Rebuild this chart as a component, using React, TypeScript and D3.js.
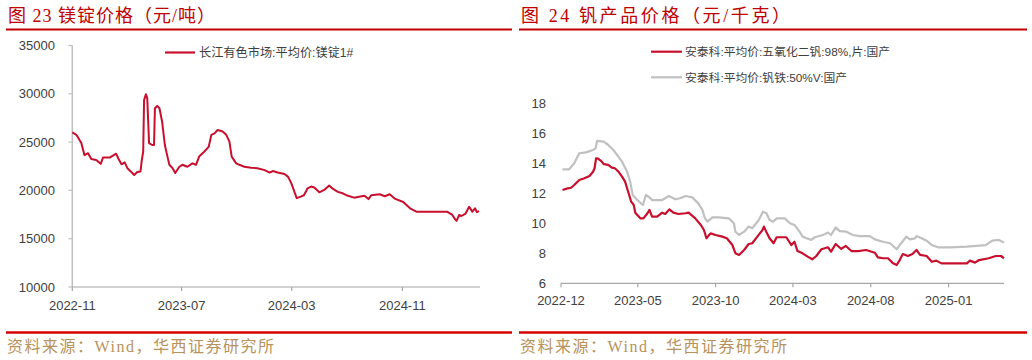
import React from 'react';
import * as d3 from 'd3';

// 镁锭价格 (元/吨)
const mgDates = [
  '2022-11-01', '2022-11-10', '2022-11-21', '2022-11-28', '2022-12-06', '2022-12-13', '2022-12-24',
  '2023-01-03', '2023-01-08', '2023-01-23', '2023-02-06', '2023-02-11', '2023-02-18', '2023-02-25',
  '2023-03-03', '2023-03-14', '2023-03-18', '2023-03-25', '2023-04-01', '2023-04-04', '2023-04-07',
  '2023-04-09', '2023-04-13', '2023-04-16', '2023-04-20', '2023-04-27', '2023-05-01', '2023-05-03',
  '2023-05-08', '2023-05-13', '2023-05-19', '2023-05-25', '2023-05-30', '2023-06-04', '2023-06-11',
  '2023-06-17', '2023-06-26', '2023-07-03', '2023-07-14', '2023-07-25', '2023-08-02', '2023-08-09',
  '2023-08-20', '2023-08-30', '2023-09-05', '2023-09-12', '2023-09-19', '2023-09-30', '2023-10-08',
  '2023-10-15', '2023-10-20', '2023-10-30', '2023-11-06', '2023-11-17', '2023-12-02', '2023-12-16',
  '2024-01-01', '2024-01-12', '2024-01-19', '2024-01-30', '2024-02-14', '2024-02-22', '2024-02-29',
  '2024-03-07', '2024-03-12', '2024-03-21', '2024-03-28', '2024-04-05', '2024-04-13', '2024-04-20',
  '2024-05-01', '2024-05-12', '2024-05-23', '2024-05-30', '2024-06-11', '2024-06-22', '2024-06-30',
  '2024-07-17', '2024-08-09', '2024-08-18', '2024-08-24', '2024-09-12', '2024-09-23', '2024-10-04',
  '2024-10-15', '2024-11-03', '2024-11-18', '2024-12-02', '2025-02-08', '2025-02-19', '2025-02-26',
  '2025-03-01', '2025-03-07', '2025-03-12', '2025-03-21', '2025-03-29', '2025-04-05', '2025-04-11',
  '2025-04-15', '2025-04-20',
];
const mgPrice = [
  26000, 25750, 24900, 23650, 23850, 23250, 23150,
  22750, 23400, 23400, 23800, 23300, 22700, 22900,
  22300, 21800, 21600, 21900, 21950, 23150, 24000,
  29350, 29950, 29550, 24900, 24700, 24700, 28500,
  28750, 28500, 27100, 24700, 23650, 22650, 22300,
  21800, 22450, 22650, 22450, 22800, 22650, 23500,
  24000, 24500, 25750, 25900, 26250, 26100, 25750,
  25050, 23500, 22800, 22650, 22450, 22350, 22300,
  22100, 21850, 22000, 21850, 21700, 21400, 20750,
  19850, 19200, 19350, 19500, 20200, 20400, 20300,
  19800, 20050, 20500, 20200, 19850, 19700, 19500,
  19250, 19450, 19100, 19500, 19600, 19400, 19600,
  19150, 18800, 18150, 17800, 17800, 17500, 17000,
  16850, 17450, 17350, 17600, 18300, 17800, 18150,
  17750, 17850,
];
const mgTicksY = [10000, 15000, 20000, 25000, 30000, 35000];
const mgTicksX = ['2022-11-01', '2023-07-01', '2024-03-01', '2024-11-01'];

// 钒产品价格 (元/千克)
const v2o5Dates = [
  '2022-12-04', '2022-12-14', '2022-12-21', '2022-12-27', '2023-01-06', '2023-01-16', '2023-01-26',
  '2023-02-02', '2023-02-05', '2023-02-08', '2023-02-11', '2023-02-17', '2023-02-23', '2023-03-04',
  '2023-03-11', '2023-03-17', '2023-03-24', '2023-03-31', '2023-04-06', '2023-04-13', '2023-04-18',
  '2023-04-23', '2023-04-26', '2023-05-06', '2023-05-12', '2023-05-20', '2023-05-24', '2023-05-29',
  '2023-06-08', '2023-06-18', '2023-06-24', '2023-07-02', '2023-07-10', '2023-07-20', '2023-08-03',
  '2023-08-09', '2023-08-22', '2023-09-02', '2023-09-08', '2023-09-13', '2023-09-21', '2023-10-01',
  '2023-10-14', '2023-10-23', '2023-11-03', '2023-11-09', '2023-11-16', '2023-11-26', '2023-12-05',
  '2023-12-12', '2023-12-22', '2024-01-01', '2024-01-04', '2024-01-10', '2024-01-15', '2024-01-23',
  '2024-01-29', '2024-02-17', '2024-02-27', '2024-03-04', '2024-03-10', '2024-03-20', '2024-03-30',
  '2024-04-08', '2024-04-16', '2024-04-26', '2024-05-09', '2024-05-15', '2024-05-24', '2024-06-04',
  '2024-06-13', '2024-06-24', '2024-07-07', '2024-07-23', '2024-08-09', '2024-08-15', '2024-08-25',
  '2024-09-04', '2024-09-14', '2024-09-21', '2024-09-27', '2024-10-03', '2024-10-13', '2024-10-22',
  '2024-10-30', '2024-11-06', '2024-11-19', '2024-11-29', '2024-12-08', '2024-12-18', '2025-01-10',
  '2025-02-06', '2025-02-12', '2025-02-22', '2025-03-02', '2025-03-21', '2025-04-04', '2025-04-14',
  '2025-04-20',
];
const v2o5Price = [
  12.22, 12.33, 12.37, 12.55, 12.89, 13.0, 13.15,
  13.44, 13.67, 14.33, 14.33, 14.18, 13.95, 13.89,
  13.71, 13.67, 13.44, 13.11, 12.78, 12.0, 11.44,
  11.22, 10.71, 10.33, 10.33, 10.67, 10.89, 10.44,
  10.44, 10.71, 10.62, 10.93, 10.71, 10.62, 10.67,
  10.71, 10.33, 9.89, 9.55, 9.0, 9.33, 9.22,
  9.11, 9.0, 8.55, 8.0, 7.89, 8.22, 8.62,
  8.67, 9.11, 9.55, 9.78, 9.33, 9.0, 8.67,
  9.07, 9.07, 8.55, 8.77, 8.15, 8.0, 7.78,
  7.6, 7.82, 8.27, 8.4, 8.11, 8.62, 8.29,
  8.49, 8.15, 8.15, 8.22, 8.04, 7.73, 7.67,
  7.67, 7.33, 7.22, 7.55, 7.95, 7.82, 7.95,
  8.22, 7.89, 7.82, 7.44, 7.51, 7.33, 7.33,
  7.33, 7.51, 7.38, 7.55, 7.67, 7.82, 7.82,
  7.67,
];
const feVDates = [
  '2022-12-04', '2022-12-17', '2022-12-27', '2023-01-06', '2023-01-19', '2023-02-02', '2023-02-07',
  '2023-02-10', '2023-02-23', '2023-03-04', '2023-03-14', '2023-03-21', '2023-03-31', '2023-04-10',
  '2023-04-16', '2023-04-21', '2023-04-30', '2023-05-11', '2023-05-17', '2023-05-26', '2023-05-29',
  '2023-06-18', '2023-07-01', '2023-07-14', '2023-07-23', '2023-08-03', '2023-08-16', '2023-08-28',
  '2023-09-05', '2023-09-10', '2023-09-15', '2023-09-25', '2023-10-07', '2023-10-27', '2023-11-06',
  '2023-11-09', '2023-11-16', '2023-11-26', '2023-12-05', '2023-12-12', '2023-12-25', '2024-01-02',
  '2024-01-09', '2024-01-15', '2024-01-22', '2024-01-29', '2024-02-14', '2024-02-24', '2024-03-04',
  '2024-03-14', '2024-03-20', '2024-04-06', '2024-04-13', '2024-04-29', '2024-05-09', '2024-05-15',
  '2024-05-24', '2024-06-01', '2024-06-14', '2024-06-27', '2024-07-10', '2024-07-30', '2024-08-09',
  '2024-08-25', '2024-09-08', '2024-09-21', '2024-09-27', '2024-10-10', '2024-10-17', '2024-10-27',
  '2024-10-30', '2024-11-09', '2024-11-19', '2024-11-29', '2024-12-11', '2025-01-04', '2025-02-06',
  '2025-03-15', '2025-03-28', '2025-04-10', '2025-04-20',
];
const feVPrice = [
  13.6, 13.6, 14.0, 14.67, 14.73, 14.89, 15.0,
  15.49, 15.44, 15.22, 14.89, 14.56, 14.11, 13.44,
  12.78, 11.89, 11.55, 11.22, 11.89, 11.67, 11.55,
  11.55, 11.82, 11.6, 11.67, 11.82, 11.73, 11.33,
  10.89, 10.33, 10.11, 10.4, 10.4, 10.33, 10.0,
  9.44, 9.22, 9.44, 9.78, 9.67, 10.22, 10.77,
  10.67, 10.22, 10.11, 10.33, 10.33, 10.0, 9.89,
  9.44, 9.11, 8.89, 9.07, 9.22, 9.38, 9.22,
  9.73, 9.48, 9.44, 9.22, 9.15, 9.15, 8.93,
  8.77, 8.67, 8.27, 8.55, 9.11, 8.93, 9.0,
  9.15, 9.0, 8.84, 8.55, 8.4, 8.4, 8.44,
  8.55, 8.84, 8.89, 8.71,
];
const vTicksY = [6, 8, 10, 12, 14, 16, 18];
const vTicksX = ['2022-12-01', '2023-05-01', '2023-10-01', '2024-03-01', '2024-08-01', '2025-01-01'];

const RED = '#c8102e';
const GREY = '#c0c0c0';
const TITLE_RED = '#c00000';
const SOURCE = '#b8925c';
const AXIS_FONT = '"Liberation Sans", "Noto Sans CJK SC", sans-serif';
const TITLE_FONT = '"Liberation Serif", "Noto Sans CJK SC", serif';

const parse = d3.timeParse('%Y-%m-%d');
const fmt = d3.timeFormat('%Y-%m');

const Frame = ({ x0, x1, title, spacing }) => (
  <g>
    <text x={x0 + 2} y={22} fontSize={18} letterSpacing={spacing} fill={TITLE_RED} fontFamily={TITLE_FONT}>{title}</text>
    <line x1={x0} x2={x1} y1={29.5} y2={29.5} stroke={TITLE_RED} strokeWidth={2} />
    <line x1={x0} x2={x1} y1={332.5} y2={332.5} stroke="#d40000" strokeWidth={2.5} />
    <text x={x0 + 1} y={352} fontSize={16} letterSpacing={1.5} fill={SOURCE} fontFamily={TITLE_FONT}>资料来源：Wind，华西证券研究所</text>
  </g>
);

const App = () => {
  // left chart scales
  const xL = d3.scaleTime()
    .domain([parse('2022-11-01'), parse('2025-04-22')])
    .range([72.3, 480]);
  const yL = d3.scaleLinear().domain([10000, 35000]).range([287, 45.5]);
  const mgLine = d3.line()
    .x((d, i) => xL(parse(mgDates[i])))
    .y(d => yL(d));

  // right chart scales
  const xR = d3.scaleTime()
    .domain([parse('2022-12-01'), parse('2025-04-20')])
    .range([561, 1004]);
  const yR = d3.scaleLinear().domain([6, 18]).range([283.3, 103.3]);
  const v2o5Line = d3.line()
    .x((d, i) => xR(parse(v2o5Dates[i])))
    .y(d => yR(d));
  const feVLine = d3.line()
    .x((d, i) => xR(parse(feVDates[i])))
    .y(d => yR(d));

  return (
    <svg width={1032} height={360} style={{ position: 'absolute', left: 0, top: 0, background: '#fff' }}>
      <rect width={1032} height={360} fill="#fff" />
      <Frame x0={6} x1={512} title="图 23 镁锭价格（元/吨）" spacing={1} />
      <Frame x0={519} x1={1027} title="图 24 钒产品价格（元/千克）" spacing={2.6} />

      {/* left chart */}
      <g fontFamily={AXIS_FONT} fontSize={13} fill="#404040">
        <line x1={72.3} x2={72.3} y1={45.5} y2={287} stroke="#bfbfbf" strokeWidth={1.5} />
        {mgTicksY.map(t => (
          <g key={t}>
            <line x1={68.5} x2={72.3} y1={yL(t)} y2={yL(t)} stroke="#bfbfbf" strokeWidth={1.2} />
            <text x={55} y={yL(t) + 4.5} textAnchor="end">{t}</text>
          </g>
        ))}
        <line x1={72.3} x2={480} y1={287} y2={287} stroke="#a6a6a6" strokeWidth={1.2} />
        {mgTicksX.map(t => (
          <g key={t}>
            <line x1={xL(parse(t))} x2={xL(parse(t))} y1={287} y2={291} stroke="#a6a6a6" strokeWidth={1.2} />
            <text x={xL(parse(t))} y={310} textAnchor="middle">{fmt(parse(t))}</text>
          </g>
        ))}
        <path d={mgLine(mgPrice)} fill="none" stroke={RED} strokeWidth={2} strokeLinejoin="round" />
        <line x1={165} x2={195} y1={52.5} y2={52.5} stroke={RED} strokeWidth={2.2} />
        <text x={199} y={57} fontSize={12.2}>长江有色市场:平均价:镁锭1#</text>
      </g>

      {/* right chart */}
      <g fontFamily={AXIS_FONT} fontSize={13} fill="#404040">
        {vTicksY.map(t => (
          <text key={t} x={546} y={yR(t) + 4.5} textAnchor="end">{t}</text>
        ))}
        <line x1={561} x2={1004} y1={283.3} y2={283.3} stroke="#a6a6a6" strokeWidth={1.2} />
        {vTicksX.map(t => (
          <g key={t}>
            <line x1={xR(parse(t))} x2={xR(parse(t))} y1={283.3} y2={287.3} stroke="#a6a6a6" strokeWidth={1.2} />
            <text x={xR(parse(t))} y={305} textAnchor="middle">{fmt(parse(t))}</text>
          </g>
        ))}
        <path d={feVLine(feVPrice)} fill="none" stroke={GREY} strokeWidth={2.2} strokeLinejoin="round" />
        <path d={v2o5Line(v2o5Price)} fill="none" stroke={RED} strokeWidth={2.2} strokeLinejoin="round" />
        <line x1={651} x2={682} y1={51.7} y2={51.7} stroke={RED} strokeWidth={2.2} />
        <text x={685} y={56} fontSize={11.8}>安泰科:平均价:五氧化二钒:98%,片:国产</text>
        <line x1={651} x2={682} y1={77.3} y2={77.3} stroke={GREY} strokeWidth={2.2} />
        <text x={685} y={81.5} fontSize={11.8}>安泰科:平均价:钒铁:50%V:国产</text>
      </g>
    </svg>
  );
};

export default App;
